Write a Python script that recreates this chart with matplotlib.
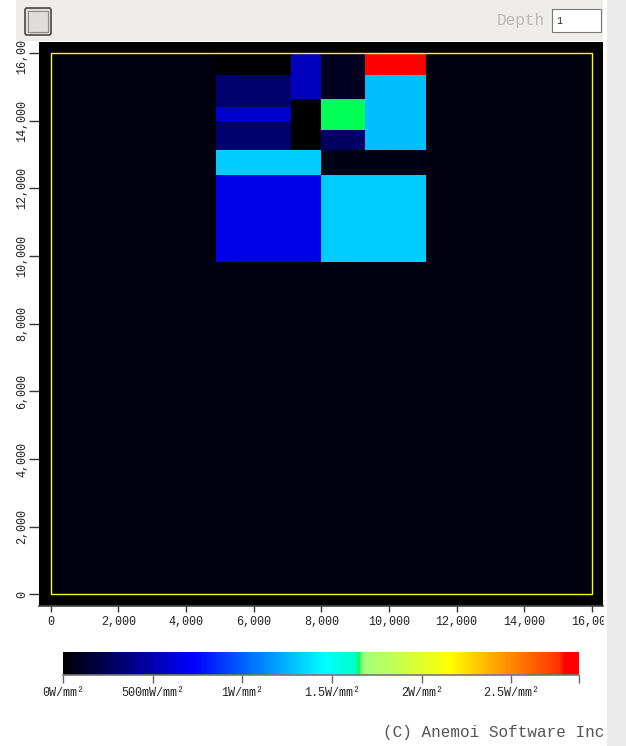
import matplotlib
matplotlib.use('Agg')
import matplotlib.pyplot as plt
import matplotlib.cm as cm
from matplotlib.colors import LinearSegmentedColormap, Normalize
from matplotlib.patches import Rectangle, FancyBboxPatch
from matplotlib.collections import PatchCollection
from matplotlib.ticker import FuncFormatter

W, H = 626, 746
FONT = 'Liberation Mono'

# cac o luoi (toa do um) va mat do cong suat (W/mm2)
o_x0 = [0, 4880, 7090, 8000, 9280, 4880, 4880, 4880, 7090, 8000, 8000, 9280, 4880, 8000, 4880, 8000]
o_x1 = [16000, 7090, 8000, 9280, 11080, 7090, 7090, 7090, 8000, 9280, 9280, 11080, 8000, 11080, 8000, 11080]
o_y0 = [0, 15340, 14650, 14650, 15340, 14400, 14000, 13130, 13130, 13720, 13130, 13130, 12410, 12410, 9820, 9820]
o_y1 = [16000, 16000, 16000, 16000, 16000, 15340, 14400, 14000, 14650, 14650, 13720, 15340, 13130, 13130, 12410, 12410]
o_cong_suat = [0.04, 0.01, 0.54, 0.09, 2.85, 0.32, 0.59, 0.32, 0.0, 1.651, 0.27, 1.28, 1.315, 0.068, 0.66, 1.315]

kich_thuoc = 16000
cong_suat_max = 2.877
moc_thang_mau = [0, 0.5, 1.0, 1.5, 2.0, 2.5]
nhan_thang_mau = ['0W/mm²', '500mW/mm²', '1W/mm²', '1.5W/mm²', '2W/mm²', '2.5W/mm²']

bang_mau = LinearSegmentedColormap.from_list('nhiet', [
    (0.0, '#000000'),
    (0.252, '#0000ff'),
    (0.508, '#00ffff'),
    (0.570, '#00ffc0'),
    (0.574, '#00ff40'),
    (0.582, '#a0ff80'),
    (0.75, '#ffff00'),
    (0.866, '#ff8c00'),
    (0.963, '#ff3000'),
    (0.972, '#ff0000'),
    (1.0, '#ff0000'),
], N=512)
chuan = Normalize(0, cong_suat_max)


def hop(x0, y0, x1, y1):
    return [x0 / W, 1 - y1 / H, (x1 - x0) / W, (y1 - y0) / H]


fig = plt.figure(figsize=(W / 100, H / 100), dpi=100)
fig.patch.set_facecolor('white')

ax = fig.add_axes(hop(39, 42, 603, 606))
ax.set_facecolor('black')
ax.set_xlim(-346, 16326)
ax.set_ylim(-340, 16327)

cac_o = [Rectangle((x0, y0), x1 - x0, y1 - y0)
         for x0, x1, y0, y1 in zip(o_x0, o_x1, o_y0, o_y1)]
pc = PatchCollection(cac_o, cmap=bang_mau, norm=chuan, edgecolor='none', antialiased=False, zorder=1)
pc.set_array(o_cong_suat)
ax.add_collection(pc)
ax.add_patch(Rectangle((0, 0), kich_thuoc, kich_thuoc, fill=False, ec='#ffff00', lw=1, zorder=3))

ticks = list(range(0, 16001, 2000))
ax.set_xticks(ticks)
ax.set_yticks(ticks)
fmt = FuncFormatter(lambda v, p: f'{int(v):,}')
ax.xaxis.set_major_formatter(fmt)
ax.yaxis.set_major_formatter(fmt)
for s in ['top', 'right', 'left']:
    ax.spines[s].set_visible(False)
ax.spines['bottom'].set_color('#444444')
ax.spines['bottom'].set_linewidth(1.2)
ax.tick_params(axis='x', length=4.5, width=1, color='#333333', labelsize=8.5, pad=2.5, labelcolor='#222222')
ax.tick_params(axis='y', length=7, width=1, color='#333333', labelsize=8.5, pad=1, labelcolor='#222222',
               labelrotation=90)
for lb in ax.get_xticklabels() + ax.get_yticklabels():
    lb.set_fontfamily(FONT)
for lb in ax.get_yticklabels():
    lb.set_va('center')

# thang mau
cax = fig.add_axes(hop(63, 652, 579, 675))
cb = fig.colorbar(cm.ScalarMappable(norm=chuan, cmap=bang_mau), cax=cax, orientation='horizontal')
cb.outline.set_visible(False)
cb.set_ticks(moc_thang_mau + [cong_suat_max])
cb.set_ticklabels(nhan_thang_mau + [''])
cax.tick_params(length=6, width=1, color='#666666', labelsize=8.5, labelcolor='#222222', pad=2.5)
for lb in cax.get_xticklabels():
    lb.set_fontfamily(FONT)
cax.axhline(0, color='#777777', lw=1.2, clip_on=False)

# thanh cong cu va khung trang
fig.patches.append(Rectangle((16 / W, 1 - 41 / H), 587 / W, 41 / H, transform=fig.transFigure,
                             fc='#eeedeb', ec='none', zorder=5))
fig.patches.append(Rectangle((603.5 / W, 0), 3.5 / W, 1, transform=fig.transFigure,
                             fc='white', ec='none', zorder=5))
fig.patches.append(Rectangle((607 / W, 0), 19 / W, 1, transform=fig.transFigure,
                             fc='#ebebeb', ec='none', zorder=5))
fig.patches.append(FancyBboxPatch((25 / W, 1 - 35 / H), 26 / W, 27 / H, transform=fig.transFigure,
                                  boxstyle='round,pad=0,rounding_size=0.003',
                                  fc='#dfddd9', ec='#555555', lw=1.3, zorder=6))
fig.patches.append(Rectangle((28 / W, 1 - 32 / H), 20 / W, 21 / H, transform=fig.transFigure,
                             fc='none', ec='#8a8a8a', lw=0.8, zorder=7))
fig.patches.append(Rectangle((552 / W, 1 - 32 / H), 49 / W, 23 / H, transform=fig.transFigure,
                             fc='white', ec='#777777', lw=0.8, zorder=6))
fig.text(545 / W, 1 - 20 / H, 'Depth', ha='right', va='center', fontsize=11.5,
         family=FONT, color='#bcb8b0', zorder=7)
fig.text(556 / W, 1 - 21 / H, '1', ha='left', va='center', fontsize=7,
         family=FONT, color='#222222', zorder=7)
fig.text(604 / W, 1 - 732 / H, '(C) Anemoi Software Inc', ha='right', va='center',
         fontsize=11.5, family=FONT, color='#555555', zorder=7)

fig.savefig('out.png', dpi=100)
